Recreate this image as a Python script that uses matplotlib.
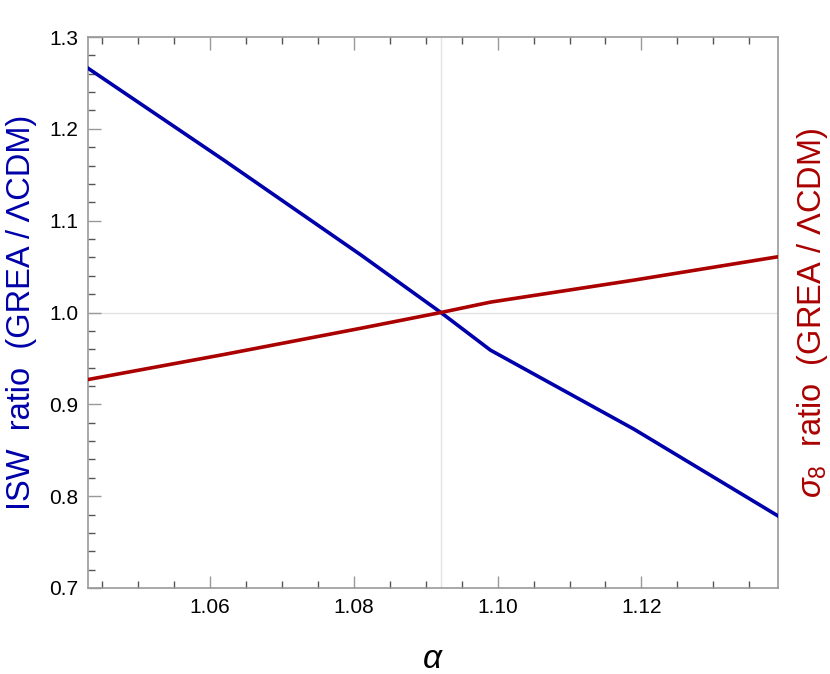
import matplotlib.pyplot as plt
from matplotlib.ticker import MultipleLocator

plt.rcParams['font.family'] = ['Liberation Sans', 'DejaVu Sans']
plt.rcParams['mathtext.fontset'] = 'custom'
plt.rcParams['mathtext.it'] = 'Liberation Sans:italic'
plt.rcParams['mathtext.rm'] = 'Liberation Sans'

# alpha values
alpha = [1.043, 1.062, 1.081, 1.0921, 1.099, 1.119, 1.139]
isw_ratio = [1.266, 1.1654, 1.0625, 1.0, 0.959, 0.8728, 0.7785]
sigma8_ratio = [0.927, 0.9544, 0.9829, 1.0, 1.0113, 1.0353, 1.0607]

x_ticks = [1.06, 1.08, 1.10, 1.12]
x_ticklabels = ["1.06", "1.08", "1.10", "1.12"]
y_ticks = [0.7, 0.8, 0.9, 1.0, 1.1, 1.2, 1.3]
y_ticklabels = ["0.7", "0.8", "0.9", "1.0", "1.1", "1.2", "1.3"]

blue = '#0000aa'
red = '#aa0000'

fig = plt.figure(figsize=(8.3, 6.74), dpi=100)
ax = fig.add_axes([0.106, 0.1276, 0.8313, 0.8175])

# reference gridlines
ax.axvline(1.0921, color='#e3e3e3', lw=1.0, zorder=1)
ax.axhline(1.0, color='#e3e3e3', lw=1.0, zorder=1)

ax.plot(alpha, isw_ratio, color=blue, lw=2.6, zorder=3)
ax.plot(alpha, sigma8_ratio, color=red, lw=2.6, zorder=3)

ax.set_xlim(1.043, 1.139)
ax.set_ylim(0.7, 1.3)

ax.set_xticks(x_ticks)
ax.set_xticklabels(x_ticklabels)
ax.set_yticks(y_ticks)
ax.set_yticklabels(y_ticklabels)
ax.xaxis.set_minor_locator(MultipleLocator(0.005))
ax.yaxis.set_minor_locator(MultipleLocator(0.02))

ax.tick_params(which='both', direction='in', top=True, right=True,
               labelsize=15, colors='#555555', labelcolor='black')
ax.tick_params(which='major', length=9, width=1.0, color='#999999', pad=7)
ax.tick_params(which='minor', length=5, width=1.0, color='#555555')

for s in ax.spines.values():
    s.set_color('#999999')
    s.set_linewidth(1.2)

ax.set_xlabel(r'$\alpha$', fontsize=24, labelpad=20)
ax.set_ylabel('ISW  ratio  (GREA / ΛCDM)', fontsize=23.5, color=blue, labelpad=9)

ax2 = ax.twinx()
ax2.set_ylim(0.7, 1.3)
ax2.set_yticks([])
for s in ax2.spines.values():
    s.set_visible(False)
ax2.set_ylabel(r'$\sigma_8$  ratio  (GREA / ΛCDM)', fontsize=23.5, color=red,
               labelpad=12)

fig.savefig('out.png', dpi=100)
